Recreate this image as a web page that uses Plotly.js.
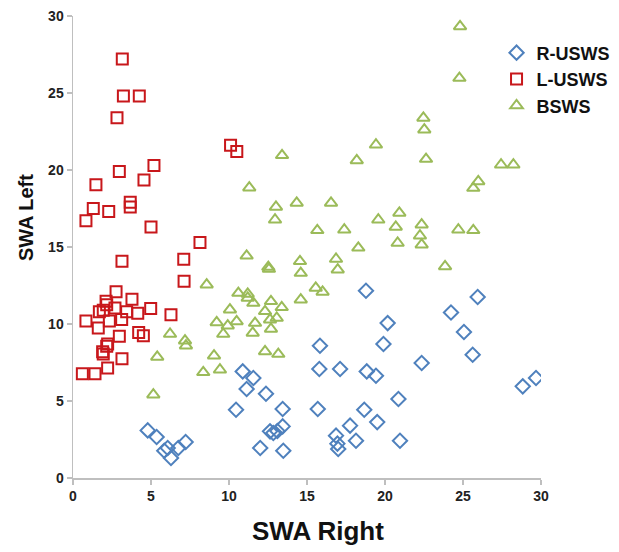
<!DOCTYPE html>
<html>
<head>
<meta charset="utf-8">
<script src="https://cdn.plot.ly/plotly-3.0.1.min.js"></script>
<style>html,body{margin:0;padding:0;background:#fff;}#chart{width:619px;height:552px;}</style>
</head>
<body>
<div id="chart"></div>
<script>
// R-USWS
var rX = [4.79,5.36,5.85,6.07,6.28,6.75,7.22,10.88,11.56,11.13,10.45,12.0,12.37,13.44,12.63,12.84,13.1,13.44,13.48,15.83,15.79,17.12,15.69,16.86,16.95,17.0,17.76,18.14,18.78,18.83,19.42,18.67,19.5,20.17,19.9,22.35,20.86,20.96,24.23,25.94,25.06,25.62,28.83,29.68];
var rY = [3.09,2.66,1.77,1.95,1.3,1.95,2.34,6.92,6.49,5.78,4.43,1.95,5.47,4.48,3.03,2.92,3.05,3.35,1.77,8.59,7.08,7.08,4.48,2.75,2.23,1.88,3.4,2.42,12.16,6.92,6.64,4.43,3.63,10.06,8.7,7.47,5.13,2.42,10.75,11.75,9.48,8.0,5.95,6.49];
// L-USWS
var lX = [3.16,3.23,4.25,2.82,10.1,10.5,2.97,5.19,4.55,1.47,3.67,3.67,1.30,2.29,0.83,5.0,8.14,3.14,7.1,7.12,2.76,3.78,2.12,2.16,1.69,1.94,2.69,3.44,4.15,4.98,6.28,0.83,2.33,3.12,1.62,4.21,4.51,2.97,2.22,2.16,1.90,1.94,3.14,2.22,0.6,1.41];
var lY = [27.2,24.8,24.8,23.4,21.6,21.2,19.9,20.3,19.35,19.05,17.9,17.6,17.5,17.3,16.7,16.3,15.3,14.07,14.2,12.77,12.1,11.6,11.47,11.25,10.8,10.9,11.04,10.8,10.7,11.0,10.6,10.2,10.2,10.3,9.74,9.45,9.24,9.2,8.7,8.55,8.2,8.05,7.75,7.14,6.77,6.77];
// BSWS
var bX = [11.3,11.13,8.57,10.6,11.2,11.2,11.56,10.06,9.21,9.92,10.49,11.67,9.63,11.52,6.22,7.18,7.24,5.4,9.04,9.42,8.35,5.15,22.46,22.52,13.4,19.42,18.19,22.63,13.01,12.95,14.34,16.54,15.66,17.39,20.92,19.57,20.69,22.35,22.24,22.35,20.81,18.29,23.85,12.52,12.56,14.55,14.6,16.86,16.97,15.56,16.0,14.6,12.69,13.38,12.31,12.63,13.06,12.69,12.31,13.16,24.81,24.77,27.44,28.23,25.98,25.66,24.7,25.66];
var bY = [18.85,14.43,12.55,12.01,11.95,11.69,11.36,10.93,10.1,9.89,10.17,10.06,9.35,9.42,9.35,8.92,8.59,7.86,7.94,7.03,6.86,5.41,23.38,22.62,20.95,21.64,20.62,20.71,17.6,16.77,17.86,17.86,16.08,16.12,17.21,16.77,16.3,16.45,15.73,15.15,15.26,14.95,13.74,13.7,13.57,14.07,13.31,14.22,13.53,12.34,12.08,11.58,11.47,11.08,10.82,10.28,10.39,9.68,8.22,8.05,29.32,25.97,20.34,20.34,19.26,18.83,16.12,16.08];

var seriesNames = ['R-USWS','L-USWS','BSWS'];
var xTicks = [0,5,10,15,20,25,30];
var yTicks = [0,5,10,15,20,25,30];
var xTitle = 'SWA Right';
var yTitle = 'SWA Left';

var FONT = 'Liberation Sans, Arial, sans-serif';
function tr(x, y, name, sym, col) {
  return {x: x, y: y, name: name, type: 'scatter', mode: 'markers',
    marker: {symbol: sym, size: 11, color: col, line: {color: col, width: 2}}};
}
var data = [
  tr(rX, rY, seriesNames[0], 'diamond-open', '#4F81BD'),
  tr(lX, lY, seriesNames[1], 'square-open', '#C8171B'),
  tr(bX, bY, seriesNames[2], 'triangle-up-open', '#9BBB59')
];
var axisCommon = {
  showgrid: false, zeroline: false, showline: true, linecolor: '#BFBFBF', linewidth: 1.5,
  ticks: 'outside', ticklen: 5, tickcolor: '#BFBFBF', tickwidth: 1.5,
  tickfont: {family: FONT, size: 14, color: '#222', weight: 'bold'},
  range: [0, 30], autorange: false, fixedrange: true
};
var layout = {
  width: 619, height: 552,
  margin: {l: 73, r: 78, t: 16, b: 74, autoexpand: false},
  paper_bgcolor: '#fff', plot_bgcolor: '#fff',
  showlegend: true,
  legend: {x: 0.905, y: 0.96, xanchor: 'left', yanchor: 'top', bgcolor: 'rgba(0,0,0,0)',
    font: {family: FONT, size: 18, color: '#111', weight: 'bold'}},
  xaxis: Object.assign({}, axisCommon, {tickvals: xTicks, ticktext: xTicks.map(String)}),
  yaxis: Object.assign({}, axisCommon, {tickvals: yTicks, ticktext: yTicks.map(String)}),
  annotations: [
    {text: xTitle, xref: 'paper', yref: 'paper', x: 0.5235, y: -0.115, xanchor: 'center', yanchor: 'middle',
      showarrow: false, font: {family: FONT, size: 26, color: '#111', weight: 'bold'}},
    {text: yTitle, xref: 'paper', yref: 'paper', x: -0.1, y: 0.563, xanchor: 'center', yanchor: 'middle',
      textangle: -90, showarrow: false, font: {family: FONT, size: 20, color: '#111', weight: 'bold'}}
  ]
};
Plotly.newPlot('chart', data, layout, {displayModeBar: false, staticPlot: true});
</script>
</body>
</html>
